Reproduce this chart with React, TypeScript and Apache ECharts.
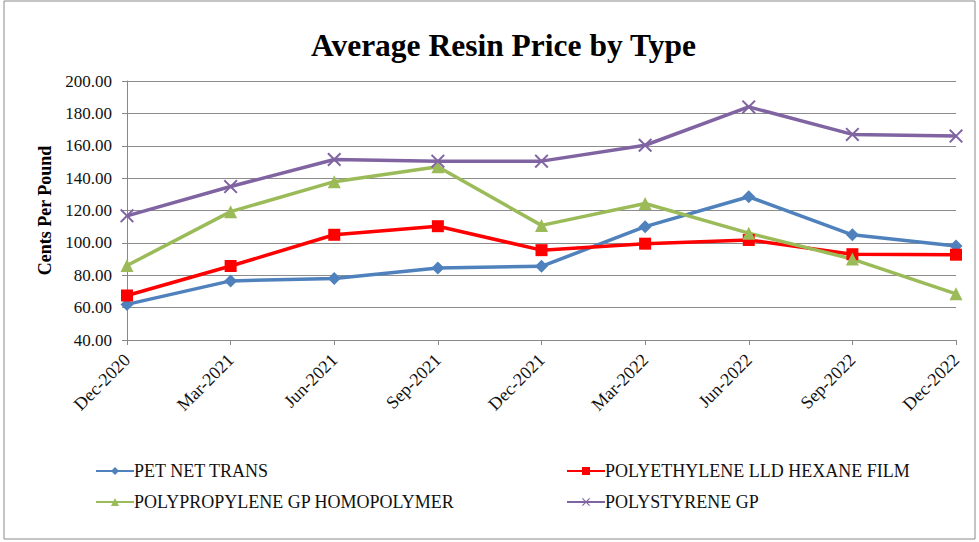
import React, { useEffect, useRef } from "react";
import * as echarts from "echarts";

const categories = ["Dec-2020", "Mar-2021", "Jun-2021", "Sep-2021", "Dec-2021", "Mar-2022", "Jun-2022", "Sep-2022", "Dec-2022"];
const petNetTrans = [62, 76.5, 78, 84.5, 85.5, 110, 128.5, 105, 98];
const polyethylene = [67.5, 85.7, 105, 110.3, 95.5, 99.5, 101.8, 93, 92.7];
const polypropylene = [86, 119.3, 137.8, 147, 110.8, 124.3, 106, 90, 68.5];
const polystyrene = [116.7, 134.8, 151.5, 150.5, 150.5, 160.3, 184, 167, 166];
const yTicks = { min: 40, max: 200, interval: 20 };

const FONT = "Liberation Serif";
const FONT_N = "Times New Roman";
const XSYM = "path://M0,1 L1,0 L5,4 L9,0 L10,1 L6,5 L10,9 L9,10 L5,6 L1,10 L0,9 L4,5 Z";

export default function App() {
  const ref = useRef<HTMLDivElement>(null);
  useEffect(() => {
    document.body.style.margin = "0";
    const chart = echarts.init(ref.current!, undefined, { renderer: "svg" });
    const mk = (name: string, data: number[], color: string, symbol: string, size: number) => ({
      name,
      type: "line",
      data,
      symbol,
      symbolSize: size,
      lineStyle: { color, width: 3.5 },
      itemStyle: { color },
      emphasis: { disabled: true },
    });
    const legendText = { fontFamily: FONT_N, fontSize: 18, color: "#111", padding: [0, 0, 0, -5] };
    const legendItem = (name: string, left: number, top: number) => ({
      itemWidth: 38,
      itemHeight: 10,
      itemGap: 2,
      left,
      top,
      textStyle: legendText,
      data: [name],
    });
    chart.setOption({
      animation: false,
      backgroundColor: "#fff",
      textStyle: { fontFamily: FONT_N },
      title: {
        text: "Average Resin Price by Type",
        left: 306,
        top: 24,
        textStyle: { fontFamily: FONT, fontSize: 31.5, fontWeight: "bold", color: "#000" },
      },
      graphic: [
        {
          type: "rect",
          shape: { x: 4, y: 1, width: 971, height: 538 },
          style: { fill: "none", stroke: "#8a8a8a", lineWidth: 1 },
          silent: true,
        },
      ],
      grid: { left: 127, right: 23, top: 81, bottom: 202 },
      legend: [
        legendItem("PET NET TRANS", 90, 457),
        legendItem("POLYETHYLENE LLD HEXANE FILM", 561, 457),
        legendItem("POLYPROPYLENE GP HOMOPOLYMER", 90, 488),
        legendItem("POLYSTYRENE GP", 561, 488),
      ],
      xAxis: {
        type: "category",
        data: categories,
        boundaryGap: false,
        axisLine: { lineStyle: { color: "#888", width: 1 } },
        axisTick: { show: true, alignWithLabel: true, length: 5, lineStyle: { color: "#888" } },
        axisLabel: { rotate: 45, fontFamily: FONT_N, fontSize: 18, color: "#111", margin: 17 },
        splitLine: { show: false },
      },
      yAxis: {
        type: "value",
        min: yTicks.min,
        max: yTicks.max,
        interval: yTicks.interval,
        name: "Cents Per Pound",
        nameLocation: "middle",
        nameGap: 72,
        nameTextStyle: { fontFamily: FONT, fontSize: 18, fontWeight: "bold", color: "#000" },
        axisLine: { show: true, lineStyle: { color: "#888", width: 1 } },
        axisTick: { show: true, length: 5, lineStyle: { color: "#888" } },
        axisLabel: {
          fontFamily: FONT_N,
          fontSize: 17,
          color: "#111",
          margin: 15,
          formatter: (v: number) => v.toFixed(2),
        },
        splitLine: { show: true, lineStyle: { color: "#8c8c8c", width: 1 } },
      },
      series: [
        mk("PET NET TRANS", petNetTrans, "#4F81BD", "diamond", 13),
        mk("POLYETHYLENE LLD HEXANE FILM", polyethylene, "#FF0000", "rect", 12),
        mk("POLYPROPYLENE GP HOMOPOLYMER", polypropylene, "#9BBB59", "triangle", 13),
        mk("POLYSTYRENE GP", polystyrene, "#8064A2", XSYM, 14),
      ],
    });
    return () => chart.dispose();
  }, []);
  return <div ref={ref} style={{ width: 979, height: 542 }} />;
}
